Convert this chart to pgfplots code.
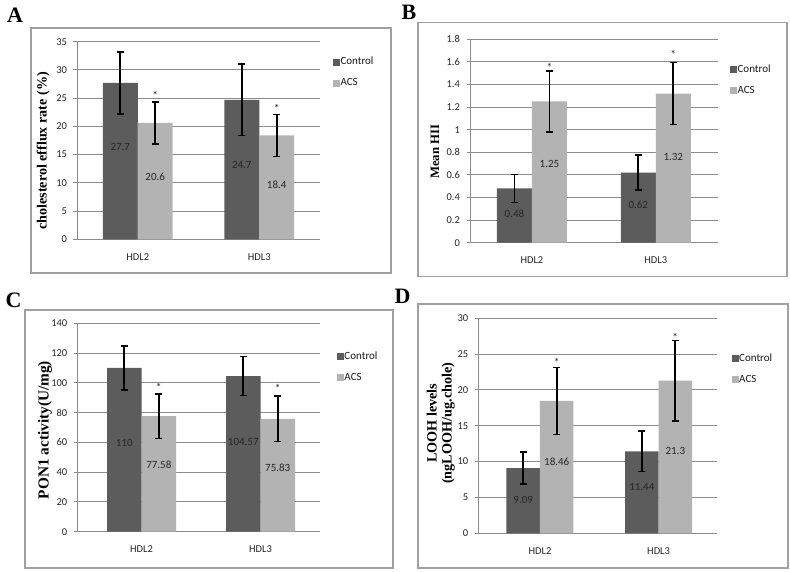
\documentclass[border=0pt]{standalone}
\usepackage{pgfplots}
\pgfplotsset{compat=1.18}
\usepackage{fontspec}
\setmainfont{Carlito}
\newfontfamily\tnr{Liberation Serif}
\definecolor{ctrl}{HTML}{5C5C5C}
\definecolor{acs}{HTML}{B3B3B3}
\definecolor{gridc}{HTML}{8C8C8C}
\definecolor{framec}{HTML}{A0A0A0}
\pgfplotsset{
  panel/.style={
    scale only axis,
    axis lines=left, axis line style={-, draw=gridc, line width=1pt},
    ymajorgrids, grid style={draw=gridc, line width=1pt},
    tick align=outside, major tick length=3.5pt,
    tick style={draw=gridc, line width=1pt},
    xtick style={draw=none},
    xtick={0,1}, xticklabels={HDL2,HDL3},
    /pgf/number format/assume math mode=true,
    tick label style={font=\fontsize{10.5}{12}\selectfont, text=black!85},
    yticklabel style={xshift=-3pt},
    xticklabel style={anchor=center, yshift=-14pt},
    ymin=0,
    legend cell align=left,
    legend style={draw=none, fill=none, inner sep=0pt, outer sep=0pt,
      font=\fontsize{11}{12}\selectfont, text=black!90, row sep=11pt,
      nodes={inner sep=0.5pt, text height=7pt, text depth=2pt}},
    legend image code/.code={\fill[##1] (0pt,-3.5pt) rectangle (7pt,3.5pt);},
  },
  errb/.style={error bars/.cd, y dir=both, y explicit,
    error bar style={black, line width=1.8pt},
    error mark options={rotate=90, black, line width=1.6pt, mark size=3.5pt}},
  vlab/.style={draw=none, forget plot, nodes near coords, point meta=explicit symbolic,
    nodes near coords style={anchor=center, font=\fontsize{11}{12}\selectfont, text=black!85}},
  star/.style={draw=none, forget plot, nodes near coords, point meta=explicit symbolic,
    nodes near coords style={anchor=center, font=\fontsize{11.5}{12}\selectfont, text=black!85}},
}
\begin{document}
\begin{tikzpicture}
\path[use as bounding box] (0pt,0pt) rectangle (790pt,572pt);
% frames
\draw[framec, line width=1.6pt] (31pt,299pt) rectangle (391pt,543.7pt);
\draw[framec, line width=1.6pt] (417.7pt,295.3pt) rectangle (786.7pt,549.3pt);
\draw[framec, line width=1.6pt] (25pt,3.7pt) rectangle (392.7pt,262pt);
\draw[framec, line width=1.6pt] (417.7pt,3.7pt) rectangle (787.7pt,268pt);
% letters
\node[font=\tnr\bfseries\fontsize{22}{24}\selectfont] at (15pt,556.5pt) {A};
\node[font=\tnr\bfseries\fontsize{22}{24}\selectfont] at (409pt,559.5pt) {B};
\node[font=\tnr\bfseries\fontsize{22}{24}\selectfont] at (13.5pt,272pt) {C};
\node[font=\tnr\bfseries\fontsize{22}{24}\selectfont] at (402.5pt,275.5pt) {D};

% ---------------- A
\begin{axis}[panel, at={(77pt,332.7pt)}, anchor=south west, width=243pt, height=197.6pt,
  xmin=-0.5, xmax=1.5, ymax=35, ytick={0,5,...,35},
  every axis y label/.style={at={(axis description cs:-0.139,0.447)}, rotate=90, anchor=center,
    font=\tnr\bfseries\fontsize{14.1}{15}\selectfont},
  ylabel={cholesterol efflux rate (\%)},
  legend style={at={(axis description cs:1.0535,0.844)}, anchor=west}]
\addplot[ybar, bar width=35pt, bar shift=0pt, fill=ctrl, draw=none, errb]
  coordinates {(-0.144,27.7) +- (0,5.5) (0.856,24.7) +- (0,6.3)};
\addplot[ybar, bar width=35pt, bar shift=0pt, fill=acs, draw=none, errb]
  coordinates {(0.144,20.6) +- (0,3.7) (1.144,18.4) +- (0,3.7)};
\legend{Control,ACS}
\addplot[vlab] coordinates {(-0.144,16.3) [27.7] (0.856,13.2) [24.7]};
\addplot[vlab] coordinates {(0.144,11.0) [20.6] (1.144,9.6) [18.4]};
\addplot[star] coordinates {(0.144,25.5) [*] (1.144,23.2) [*]};
\end{axis}

% ---------------- B
\begin{axis}[panel, at={(470pt,329.3pt)}, anchor=south west, width=247.7pt, height=203.4pt,
  xmin=-0.5, xmax=1.5, ymax=1.8, ytick={0,0.2,0.4,0.6,0.8,1,1.2,1.4,1.6,1.8},
  every axis y label/.style={at={(axis description cs:-0.141,0.447)}, rotate=90, anchor=center,
    font=\tnr\bfseries\fontsize{12.8}{15}\selectfont},
  ylabel={Mean HII},
  legend style={at={(axis description cs:1.05,0.798)}, anchor=west}]
\addplot[ybar, bar width=35pt, bar shift=0pt, fill=ctrl, draw=none, errb]
  coordinates {(-0.1413,0.48) +- (0,0.125) (0.8587,0.62) +- (0,0.155)};
\addplot[ybar, bar width=35pt, bar shift=0pt, fill=acs, draw=none, errb]
  coordinates {(0.1413,1.25) +- (0,0.27) (1.1413,1.32) +- (0,0.275)};
\legend{Control,ACS}
\addplot[vlab] coordinates {(-0.1413,0.26) [0.48] (0.8587,0.334) [0.62]};
\addplot[vlab] coordinates {(0.1413,0.70) [1.25] (1.1413,0.76) [1.32]};
\addplot[star] coordinates {(0.1413,1.555) [*] (1.1413,1.665) [*]};
\end{axis}

% ---------------- C
\begin{axis}[panel, at={(77.3pt,40.3pt)}, anchor=south west, width=242.7pt, height=208.4pt,
  xmin=-0.54, xmax=1.5, ymax=140, ytick={0,20,...,140},
  every axis y label/.style={at={(axis description cs:-0.133,0.488)}, rotate=90, anchor=center,
    font=\tnr\bfseries\fontsize{15.3}{16}\selectfont},
  ylabel={PON1 activity(U/mg)},
  legend style={at={(axis description cs:1.07,0.788)}, anchor=west}]
\addplot[ybar, bar width=34.5pt, bar shift=0pt, fill=ctrl, draw=none, errb]
  coordinates {(-0.145,110) +- (0,14.7) (0.855,104.57) +- (0,13.1)};
\addplot[ybar, bar width=34.5pt, bar shift=0pt, fill=acs, draw=none, errb]
  coordinates {(0.145,77.58) +- (0,15) (1.145,75.83) +- (0,15.3)};
\legend{Control,ACS}
\addplot[vlab] coordinates {(-0.145,59.4) [110] (0.855,60.5) [104.57]};
\addplot[vlab] coordinates {(0.145,44.8) [77.58] (1.145,42.6) [75.83]};
\addplot[star] coordinates {(0.145,96.8) [*] (1.145,96.1) [*]};
\end{axis}

% ---------------- D
\begin{axis}[panel, at={(478.3pt,38.7pt)}, anchor=south west, width=238.4pt, height=215pt,
  xmin=-0.52, xmax=1.49, ymax=30, ytick={0,5,...,30},
  every axis y label/.style={at={(axis description cs:-0.157,0.512)}, rotate=90, anchor=center,
    align=center, font=\tnr\bfseries\fontsize{14.2}{15}\selectfont},
  ylabel={LOOH levels\\(ngLOOH/ug.chole)},
  legend style={at={(axis description cs:1.063,0.763)}, anchor=west}]
\addplot[ybar, bar width=33.5pt, bar shift=0pt, fill=ctrl, draw=none, errb]
  coordinates {(-0.1412,9.09) +- (0,2.25) (0.8588,11.44) +- (0,2.8)};
\addplot[ybar, bar width=33.5pt, bar shift=0pt, fill=acs, draw=none, errb]
  coordinates {(0.1412,18.46) +- (0,4.7) (1.1412,21.3) +- (0,5.6)};
\legend{Control,ACS}
\addplot[vlab] coordinates {(-0.1412,4.65) [9.09] (0.8588,6.5) [11.44]};
\addplot[vlab] coordinates {(0.1412,10.0) [18.46] (1.1412,11.5) [21.3]};
\addplot[star] coordinates {(0.1412,23.8) [*] (1.1412,27.3) [*]};
\end{axis}
\end{tikzpicture}
\end{document}
